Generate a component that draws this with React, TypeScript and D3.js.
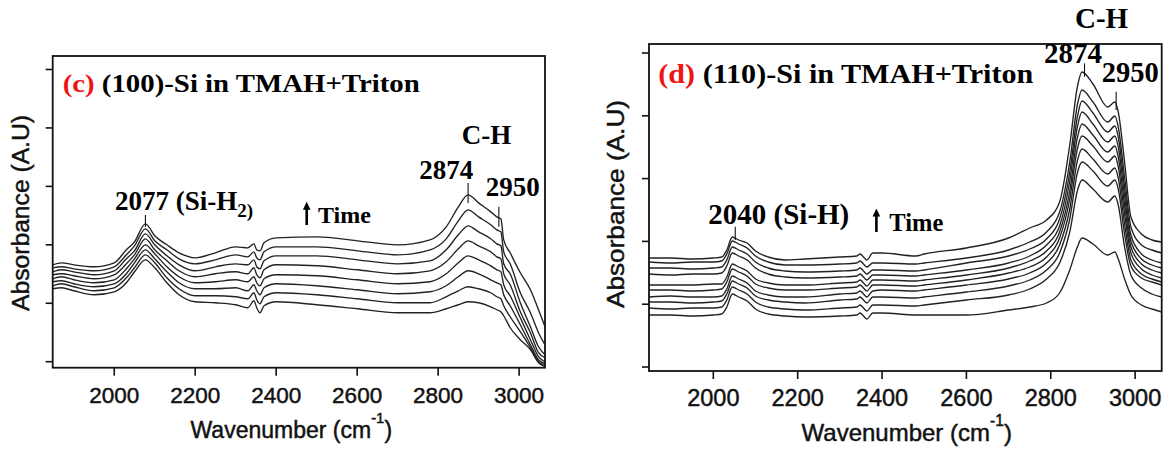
import React from "react";
import * as d3 from "d3";

// ---------- data ----------
const xTickValues = [2000, 2200, 2400, 2600, 2800, 3000];

// panel (c): (100)-Si, 8 spectra (bottom -> top = increasing time)
const wnC = [1848, 1870, 1900, 1950, 2000, 2030, 2050, 2077, 2100, 2130, 2160, 2200, 2250, 2300, 2330, 2345, 2352, 2360, 2370, 2400, 2500, 2600, 2700, 2780, 2820, 2850, 2874, 2900, 2930, 2945, 2955, 2962, 2978, 3003, 3028, 3048, 3064];
const c1 = [73, 74, 71, 67, 70, 79, 90, 102, 94, 79, 67, 60, 59, 57, 54, 61, 54, 49, 56, 60, 57, 53, 49, 49, 53, 57, 60, 59, 55, 52, 50, 46, 34, 22, 12, -1, -5];
const c2 = [76, 78, 75, 71, 74, 84, 94, 107, 99, 84, 73, 66, 66, 65, 63, 69, 62, 58, 65, 69, 67, 63, 59, 59, 65, 71, 75, 73, 69, 65, 63, 56, 45, 30, 14, 0, -4];
const c3 = [80, 81, 78, 75, 78, 88, 99, 112, 103, 90, 79, 73, 73, 74, 71, 77, 71, 67, 74, 78, 76, 72, 68, 70, 76, 85, 91, 88, 82, 79, 77, 67, 56, 37, 17, 2, -2];
const c4 = [83, 85, 82, 79, 82, 93, 103, 117, 108, 95, 85, 79, 80, 82, 80, 85, 79, 76, 83, 87, 86, 82, 78, 80, 88, 99, 106, 102, 96, 92, 90, 77, 66, 44, 22, 5, 0];
const c5 = [87, 88, 86, 83, 87, 98, 107, 123, 112, 101, 91, 85, 88, 90, 88, 94, 87, 84, 92, 97, 96, 92, 88, 91, 100, 113, 121, 116, 110, 105, 103, 88, 77, 50, 29, 9, 4];
const c6 = [90, 92, 90, 87, 91, 103, 111, 128, 117, 106, 97, 91, 95, 98, 97, 102, 95, 93, 101, 106, 106, 102, 98, 101, 112, 127, 136, 130, 123, 118, 116, 98, 88, 59, 35, 15, 7];
const c7 = [94, 95, 93, 91, 95, 107, 116, 133, 121, 112, 103, 98, 102, 107, 105, 110, 104, 102, 110, 115, 115, 111, 107, 112, 123, 141, 152, 145, 137, 132, 130, 110, 98, 69, 49, 29, 17];
const c8 = [97, 99, 97, 95, 99, 112, 120, 138, 126, 117, 109, 104, 109, 115, 114, 118, 112, 111, 119, 124, 125, 121, 117, 122, 135, 155, 167, 159, 150, 145, 143, 122, 109, 89, 72, 52, 35];
const seriesC = [c1, c2, c3, c4, c5, c6, c7, c8];
const yTicksC = [0, 58.5, 117, 175.5, 234, 292.5];
const peaksC = [2077, 2874, 2950];

// panel (d): (110)-Si, 10 spectra
const wnD = [1848, 1900, 1950, 2000, 2020, 2032, 2045, 2060, 2080, 2100, 2130, 2170, 2217, 2300, 2340, 2348, 2356, 2364, 2378, 2400, 2480, 2500, 2600, 2700, 2750, 2790, 2821, 2845, 2863, 2874, 2900, 2935, 2952, 2960, 2975, 2990, 3015, 3040, 3063];
const r1 = [52, 52, 51, 52, 53, 60, 73, 70, 66, 58, 53, 51, 50, 51, 52, 54, 51, 48, 54, 54, 52, 52, 52, 57, 60, 64, 74, 97, 120, 129, 123, 112, 115, 108, 88, 72, 62, 58, 55];
const r2 = [59, 58, 59, 59, 60, 67, 80, 77, 73, 65, 60, 58, 57, 59, 60, 62, 59, 56, 62, 62, 61, 62, 67, 72, 78, 88, 104, 135, 176, 187, 178, 165, 171, 162, 120, 92, 79, 73, 70];
const r3 = [65, 65, 64, 65, 66, 73, 86, 83, 79, 71, 67, 65, 64, 67, 68, 70, 67, 64, 70, 70, 69, 70, 75, 81, 87, 97, 114, 148, 194, 205, 196, 181, 187, 178, 133, 101, 89, 85, 82];
const r4 = [70, 71, 70, 70, 71, 78, 91, 88, 84, 76, 72, 70, 70, 73, 74, 76, 73, 70, 76, 77, 76, 77, 82, 88, 94, 104, 122, 158, 206, 218, 208, 193, 199, 189, 143, 107, 93, 88, 85];
const r5 = [77, 77, 76, 77, 78, 85, 98, 95, 91, 83, 79, 77, 77, 79, 80, 82, 79, 76, 82, 82, 81, 82, 87, 94, 100, 110, 129, 168, 218, 231, 221, 205, 211, 200, 153, 114, 98, 92, 89];
const r6 = [82, 82, 82, 83, 83, 90, 103, 100, 96, 88, 84, 82, 82, 84, 85, 87, 84, 81, 87, 87, 86, 87, 92, 99, 106, 116, 135, 176, 229, 243, 232, 215, 221, 210, 162, 120, 103, 97, 94];
const r7 = [93, 92, 93, 93, 94, 101, 114, 111, 107, 99, 93, 90, 89, 90, 91, 93, 90, 87, 92, 92, 91, 92, 97, 104, 111, 122, 141, 186, 240, 255, 243, 225, 231, 220, 171, 126, 108, 102, 99];
const r8 = [99, 99, 98, 99, 100, 107, 120, 117, 113, 105, 99, 96, 95, 96, 97, 99, 96, 93, 97, 97, 96, 97, 104, 111, 118, 128, 148, 195, 250, 266, 254, 235, 241, 230, 180, 132, 113, 107, 104];
const r9 = [105, 104, 105, 105, 106, 113, 126, 123, 119, 111, 105, 102, 102, 103, 104, 106, 103, 100, 104, 104, 103, 104, 109, 117, 125, 135, 155, 205, 262, 277, 265, 245, 251, 240, 190, 140, 122, 117, 114];
const r10 = [109, 109, 108, 109, 110, 117, 130, 127, 124, 116, 110, 107, 108, 110, 111, 113, 110, 107, 114, 114, 111, 113, 119, 129, 139, 147, 165, 222, 280, 295, 283, 260, 265, 255, 205, 150, 133, 127, 125];
const seriesD = [r1, r2, r3, r4, r5, r6, r7, r8, r9, r10];
const yTicksD = [0, 62.8, 125.6, 188.4, 251.2, 314];
const peaksD = [2052, 2880, 2955];

// ---------- styles ----------
const SERIF = "'Liberation Serif', 'Times New Roman', serif";
const SANS = "'Liberation Sans', Arial, sans-serif";

type Layout = {
  id: string;
  frame: { l: number; t: number; r: number; b: number };
  xDomain: [number, number];
  yDomain: [number, number];
  tickFont: number;
  tickBaseline: number;
  xLabel: { cx: number; y: number; size: number };
  yLabel: { x: number; cy: number; size: number; len: number };
  title: { x: number; y: number; size: number; len: number; tag: string; rest: string };
  peakLabel: { x: number; y: number; size: number };
  peakMarks: [number, number][];
  time: { ax: number; at: number; ab: number; tx: number; ty: number; size: number };
  ch: { x: number; y: number; size: number };
  l2874: { x: number; y: number; size: number };
  l2950: { x: number; y: number; size: number };
};

function Panel({ L, wn, series, yTicks, peaks, children }: { L: Layout; wn: number[]; series: number[][]; yTicks: number[]; peaks: number[]; children: React.ReactNode }) {
  const { frame } = L;
  const x = d3.scaleLinear().domain(L.xDomain).range([frame.l, frame.r]);
  const y = d3.scaleLinear().domain(L.yDomain).range([frame.b, frame.t]);
  const line = d3
    .line<number>()
    .x((_, i) => x(wn[i]))
    .y((v) => y(v))
    .curve(d3.curveMonotoneX);
  return (
    <g>
      <defs>
        <clipPath id={`clip-${L.id}`}>
          <rect x={frame.l} y={frame.t} width={frame.r - frame.l} height={frame.b - frame.t} />
        </clipPath>
      </defs>
      <g clipPath={`url(#clip-${L.id})`}>
        {series.map((s, i) => (
          <path key={i} d={line(s) || ""} fill="none" stroke="#222" strokeWidth={1.35} strokeLinejoin="round" />
        ))}
      </g>
      <rect x={frame.l} y={frame.t} width={frame.r - frame.l} height={frame.b - frame.t} fill="none" stroke="#111" strokeWidth={1.8} />
      {yTicks.map((t) => (
        <line key={t} x1={frame.l - 7} x2={frame.l} y1={y(t)} y2={y(t)} stroke="#111" strokeWidth={1.6} />
      ))}
      {xTickValues.map((t) => (
        <g key={t}>
          <line x1={x(t)} x2={x(t)} y1={frame.b} y2={frame.b + 8} stroke="#111" strokeWidth={1.6} />
          <text x={x(t)} y={L.tickBaseline} textAnchor="middle" fontFamily={SANS} fontSize={L.tickFont} fill="#111" stroke="#111" strokeWidth={0.45}>
            {t}
          </text>
        </g>
      ))}
      <text x={L.xLabel.cx} y={L.xLabel.y} textAnchor="middle" fontFamily={SANS} fontSize={L.xLabel.size} fill="#111" stroke="#111" strokeWidth={0.45}>
        Wavenumber (cm
        <tspan dy={-15} fontSize={L.xLabel.size * 0.65}>-1</tspan>
        <tspan dy={15}>)</tspan>
      </text>
      <text
        transform={`translate(${L.yLabel.x},${L.yLabel.cy}) rotate(-90)`}
        textAnchor="middle"
        fontFamily={SANS}
        fontSize={L.yLabel.size}
        textLength={L.yLabel.len}
        lengthAdjust="spacingAndGlyphs"
        fill="#111"
        stroke="#111"
        strokeWidth={0.45}
      >
        Absorbance (A.U)
      </text>
      <text x={L.title.x} y={L.title.y} fontFamily={SERIF} fontWeight="bold" fontSize={L.title.size} textLength={L.title.len} lengthAdjust="spacingAndGlyphs" fill="#000">
        <tspan fill="#f01515">{L.title.tag}</tspan>
        {L.title.rest}
      </text>
      {peaks.map((p, i) => (
        <line key={p} x1={x(p)} x2={x(p)} y1={L.peakMarks[i][0]} y2={L.peakMarks[i][1]} stroke="#111" strokeWidth={1.1} />
      ))}
      {children}
      <line x1={L.time.ax} x2={L.time.ax} y1={L.time.ab} y2={L.time.at + 6} stroke="#000" strokeWidth={2.6} />
      <path d={`M${L.time.ax - 3.8},${L.time.at + 8} L${L.time.ax},${L.time.at} L${L.time.ax + 3.8},${L.time.at + 8} Z`} fill="#000" />
      <text x={L.time.tx} y={L.time.ty} fontFamily={SERIF} fontWeight="bold" fontSize={L.time.size} fill="#000">
        Time
      </text>
      <text x={L.ch.x} y={L.ch.y} fontFamily={SERIF} fontWeight="bold" fontSize={L.ch.size} fill="#000">
        C-H
      </text>
      <text x={L.l2874.x} y={L.l2874.y} fontFamily={SERIF} fontWeight="bold" fontSize={L.l2874.size} fill="#000">
        2874
      </text>
      <text x={L.l2950.x} y={L.l2950.y} fontFamily={SERIF} fontWeight="bold" fontSize={L.l2950.size} fill="#000">
        2950
      </text>
    </g>
  );
}

const layoutC: Layout = {
  id: "c",
  frame: { l: 52.7, t: 56, r: 545, b: 367.7 },
  xDomain: [1848, 3064],
  yDomain: [-6, 306],
  tickFont: 22.5,
  tickBaseline: 403,
  xLabel: { cx: 291.3, y: 438, size: 23 },
  yLabel: { x: 28.5, cy: 213, size: 23, len: 196 },
  title: { x: 62.7, y: 91.7, size: 26, len: 357, tag: "(c)", rest: " (100)-Si in TMAH+Triton" },
  peakLabel: { x: 115, y: 210, size: 27 },
  peakMarks: [[215, 227], [183, 203], [206.7, 226.7]],
  time: { ax: 306.7, at: 201.7, ab: 225, tx: 318, ty: 223, size: 24 },
  ch: { x: 461.7, y: 144, size: 27 },
  l2874: { x: 419.3, y: 179.3, size: 27 },
  l2950: { x: 485.7, y: 196, size: 27 },
};

const layoutD: Layout = {
  id: "d",
  frame: { l: 649, t: 44, r: 1161.7, b: 371 },
  xDomain: [1847.5, 3063],
  yDomain: [-4, 323],
  tickFont: 23.5,
  tickBaseline: 406,
  xLabel: { cx: 906.7, y: 441, size: 24 },
  yLabel: { x: 623.5, cy: 204, size: 24, len: 208 },
  title: { x: 658.3, y: 83.3, size: 28, len: 375, tag: "(d)", rest: " (110)-Si in TMAH+Triton" },
  peakLabel: { x: 708.3, y: 223.5, size: 29 },
  peakMarks: [[226.7, 240], [63.3, 76.7], [91.7, 110]],
  time: { ax: 876.4, at: 208.5, ab: 232, tx: 889.3, ty: 230.5, size: 24.5 },
  ch: { x: 1075, y: 28.3, size: 29 },
  l2874: { x: 1044, y: 63, size: 29 },
  l2950: { x: 1101.7, y: 81.7, size: 28.5 },
};

export default function App() {
  return (
    <svg
      width={1169}
      height={452}
      viewBox="0 0 1169 452"
      style={{ position: "absolute", left: 0, top: 0, display: "block", background: "#fff" }}
    >
      <rect x={0} y={0} width={1169} height={452} fill="#fff" />
      <Panel L={layoutC} wn={wnC} series={seriesC} yTicks={yTicksC} peaks={peaksC}>
        <text x={layoutC.peakLabel.x} y={layoutC.peakLabel.y} fontFamily={SERIF} fontWeight="bold" fontSize={layoutC.peakLabel.size} fill="#000">
          2077 (Si-H
          <tspan fontSize={19} dy={7}>2)</tspan>
        </text>
      </Panel>
      <Panel L={layoutD} wn={wnD} series={seriesD} yTicks={yTicksD} peaks={peaksD}>
        <text x={layoutD.peakLabel.x} y={layoutD.peakLabel.y} fontFamily={SERIF} fontWeight="bold" fontSize={layoutD.peakLabel.size} fill="#000">
          2040 (Si-H)
        </text>
      </Panel>
    </svg>
  );
}
